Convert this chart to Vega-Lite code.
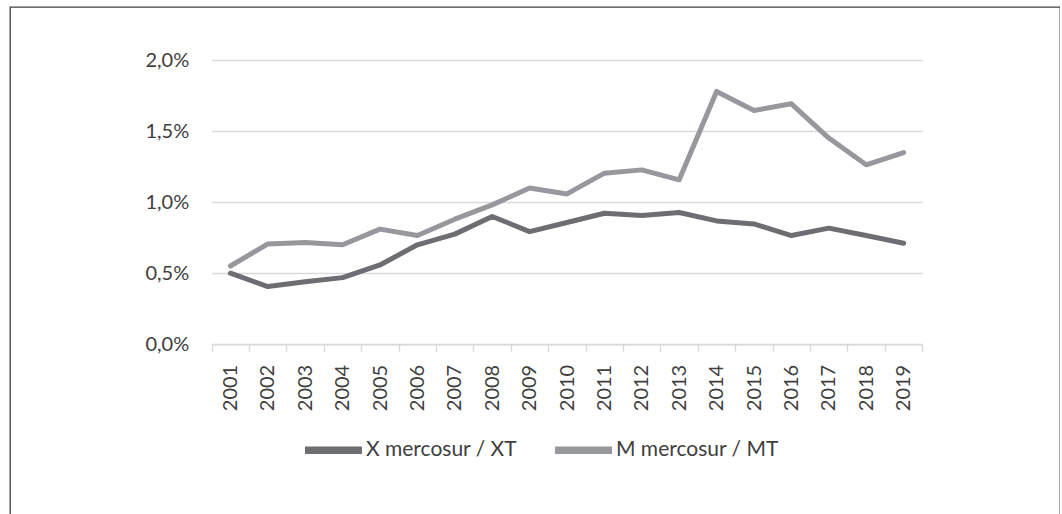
{
  "$schema": "https://vega.github.io/schema/vega-lite/v6.json",
  "autosize": {"type": "none"},
  "padding": {"left": 10, "top": 7, "right": 0, "bottom": 0},
  "width": 1050,
  "height": 520,
  "background": "white",
  "config": {"view": {"stroke": "#404040", "strokeWidth": 1.3}, "font": "Lato"},
  "data": {"values": [
    {"year": "2001", "series": "X mercosur / XT", "value": 0.50},
    {"year": "2002", "series": "X mercosur / XT", "value": 0.406},
    {"year": "2003", "series": "X mercosur / XT", "value": 0.44},
    {"year": "2004", "series": "X mercosur / XT", "value": 0.469},
    {"year": "2005", "series": "X mercosur / XT", "value": 0.558},
    {"year": "2006", "series": "X mercosur / XT", "value": 0.70},
    {"year": "2007", "series": "X mercosur / XT", "value": 0.775},
    {"year": "2008", "series": "X mercosur / XT", "value": 0.899},
    {"year": "2009", "series": "X mercosur / XT", "value": 0.793},
    {"year": "2010", "series": "X mercosur / XT", "value": 0.857},
    {"year": "2011", "series": "X mercosur / XT", "value": 0.922},
    {"year": "2012", "series": "X mercosur / XT", "value": 0.906},
    {"year": "2013", "series": "X mercosur / XT", "value": 0.927},
    {"year": "2014", "series": "X mercosur / XT", "value": 0.868},
    {"year": "2015", "series": "X mercosur / XT", "value": 0.847},
    {"year": "2016", "series": "X mercosur / XT", "value": 0.765},
    {"year": "2017", "series": "X mercosur / XT", "value": 0.817},
    {"year": "2018", "series": "X mercosur / XT", "value": 0.765},
    {"year": "2019", "series": "X mercosur / XT", "value": 0.711},
    {"year": "2001", "series": "M mercosur / MT", "value": 0.551},
    {"year": "2002", "series": "M mercosur / MT", "value": 0.706},
    {"year": "2003", "series": "M mercosur / MT", "value": 0.716},
    {"year": "2004", "series": "M mercosur / MT", "value": 0.70},
    {"year": "2005", "series": "M mercosur / MT", "value": 0.81},
    {"year": "2006", "series": "M mercosur / MT", "value": 0.765},
    {"year": "2007", "series": "M mercosur / MT", "value": 0.88},
    {"year": "2008", "series": "M mercosur / MT", "value": 0.981},
    {"year": "2009", "series": "M mercosur / MT", "value": 1.099},
    {"year": "2010", "series": "M mercosur / MT", "value": 1.058},
    {"year": "2011", "series": "M mercosur / MT", "value": 1.204},
    {"year": "2012", "series": "M mercosur / MT", "value": 1.227},
    {"year": "2013", "series": "M mercosur / MT", "value": 1.157},
    {"year": "2014", "series": "M mercosur / MT", "value": 1.779},
    {"year": "2015", "series": "M mercosur / MT", "value": 1.645},
    {"year": "2016", "series": "M mercosur / MT", "value": 1.692},
    {"year": "2017", "series": "M mercosur / MT", "value": 1.451},
    {"year": "2018", "series": "M mercosur / MT", "value": 1.263},
    {"year": "2019", "series": "M mercosur / MT", "value": 1.349}
  ]},
  "mark": {"type": "line", "strokeWidth": 5, "strokeCap": "round", "strokeJoin": "round"},
  "encoding": {
    "x": {
      "field": "year", "type": "ordinal",
      "scale": {"type": "band", "range": [201.7, 912.3], "paddingInner": 0, "paddingOuter": 0},
      "axis": {
        "title": null, "orient": "bottom", "offset": -182.7,
        "domainColor": "#d9d9d9", "domainWidth": 1.5,
        "tickColor": "#d9d9d9", "tickWidth": 1.5, "tickSize": 7, "tickBand": "extent",
        "labelAngle": -90, "labelFontSize": 20, "labelColor": "#404040", "labelPadding": 13,
        "grid": false
      }
    },
    "y": {
      "field": "value", "type": "quantitative",
      "scale": {"domain": [0, 2], "range": [337.3, 53]},
      "axis": {
        "title": null, "orient": "left", "offset": -201.7,
        "values": [0, 0.5, 1, 1.5, 2],
        "labelExpr": "replace(format(datum.value, '.1f'), '.', ',') + '%'",
        "domain": false, "ticks": false, "tickSize": 0, "labelPadding": 23,
        "labelFontSize": 20, "labelColor": "#404040",
        "grid": true, "gridColor": "#d9d9d9", "gridWidth": 1.5
      }
    },
    "color": {
      "field": "series", "type": "nominal",
      "scale": {"domain": ["X mercosur / XT", "M mercosur / MT"], "range": ["#6d6e71", "#97989b"]},
      "legend": {
        "title": null, "orient": "none", "legendX": 291, "legendY": 410.5, "direction": "horizontal",
        "symbolType": "stroke", "symbolSize": 3249, "symbolStrokeWidth": 7.5,
        "labelFontSize": 21, "labelColor": "#404040", "labelOffset": 0, "labelLimit": 0,
        "columnPadding": 22, "padding": 0
      }
    }
  }
}
